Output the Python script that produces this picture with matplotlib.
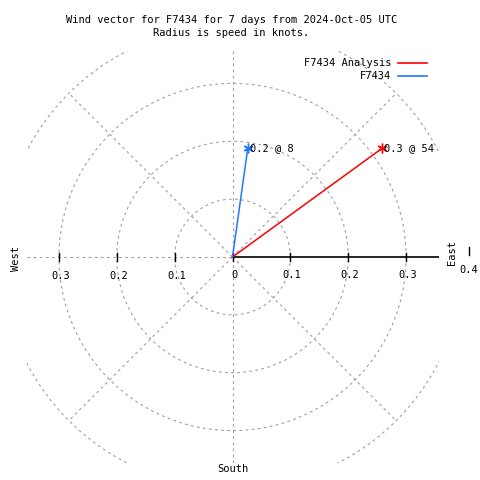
import numpy as np
import matplotlib
matplotlib.use("Agg")
import matplotlib.pyplot as plt
from matplotlib.lines import Line2D

# Wind vectors (direction in degrees clockwise from north, speed in knots)
names = ["F7434 Analysis", "F7434"]
directions = [54, 8]
speeds = [0.32, 0.19]
point_labels = ["0.3 @ 54", "0.2 @ 8"]
colors = ["#ff0000", "#1e78ff"]

rings = [0.1, 0.2, 0.3, 0.4]
tick_vals = [0.1, 0.2, 0.3]
spoke_angles = [45, 135, 225, 315]

title1 = "Wind vector for F7434 for 7 days from 2024-Oct-05 UTC"
title2 = "Radius is speed in knots."

font = "DejaVu Sans Mono"
fs = 7.5
grid_kw = dict(color="#a0a0a0", lw=0.8, ls=(0, (2.5, 3)))

fig = plt.figure(figsize=(4.8, 4.8), dpi=100)
ax = fig.add_axes([26 / 480, 17 / 480, 413 / 480, 412 / 480])
lim = 0.356
ax.set_xlim(-lim, lim)
ax.set_ylim(-lim, lim)
ax.set_aspect("equal")
ax.axis("off")

# polar grid
t = np.linspace(0, 2 * np.pi, 400)
for r in rings:
    ax.plot(r * np.cos(t), r * np.sin(t), **grid_kw)
for a in spoke_angles:
    ax.plot([0, 0.4 * np.cos(np.radians(a))], [0, 0.4 * np.sin(np.radians(a))], **grid_kw)
ax.plot([0, 0], [-lim, lim], **grid_kw)
ax.plot([-lim, 0], [0, 0], **grid_kw)

# radial axis
ax.plot([0, lim], [0, 0], color="black", lw=1.2)
tk = 0.007
for v in [0] + tick_vals:
    ax.plot([v, v], [-tk, tk], color="black", lw=1)
    ax.text(v + 0.003, -0.031, f"{v:g}", ha="center", va="center",
            family=font, fontsize=fs)
for v in tick_vals:
    ax.plot([-v, -v], [-tk, tk], color="black", lw=1)
    ax.text(-v + 0.004, -0.033, f"{v:g}", ha="center", va="center",
            family=font, fontsize=fs)
ax.plot([0.408, 0.408], [0.004, 0.018], color="black", lw=1, clip_on=False)
ax.text(0.408, -0.022, "0.4", ha="center", va="center", family=font,
        fontsize=fs, clip_on=False)

# compass labels
ax.text(0.379, 0.007, "East", rotation=90, ha="center", va="center",
        family=font, fontsize=fs, clip_on=False)
ax.text(-0.374, -0.003, "West", rotation=90, ha="center", va="center",
        family=font, fontsize=fs, clip_on=False)
ax.text(0.0, -0.367, "South", ha="center", va="center", family=font,
        fontsize=fs, clip_on=False)

# vectors
for d, s, lab, c in zip(directions, speeds, point_labels, colors):
    x = s * np.sin(np.radians(d))
    y = s * np.cos(np.radians(d))
    ax.plot([0, x], [0, y], color=c, lw=1.1)
    ax.plot([x], [y], marker=(6, 2, 0), ms=7, mec=c, mew=1, color=c)
    ax.text(x + 0.003, y, lab, ha="left", va="center", family=font, fontsize=fs)

# legend
for i, (n, c) in enumerate(zip(names, colors)):
    yy = 1 - (63 + 13 * i) / 480
    fig.text(391 / 480, yy, n, ha="right", va="center", family=font, fontsize=fs)
    fig.add_artist(Line2D([398 / 480, 427 / 480], [yy, yy], color=c, lw=1.2))

fig.text(231.5 / 480, 1 - 20 / 480, title1, ha="center", va="center",
         family=font, fontsize=fs)
fig.text(231.5 / 480, 1 - 33 / 480, title2, ha="center", va="center",
         family=font, fontsize=fs)

fig.savefig("out.png", dpi=100, facecolor="white")
